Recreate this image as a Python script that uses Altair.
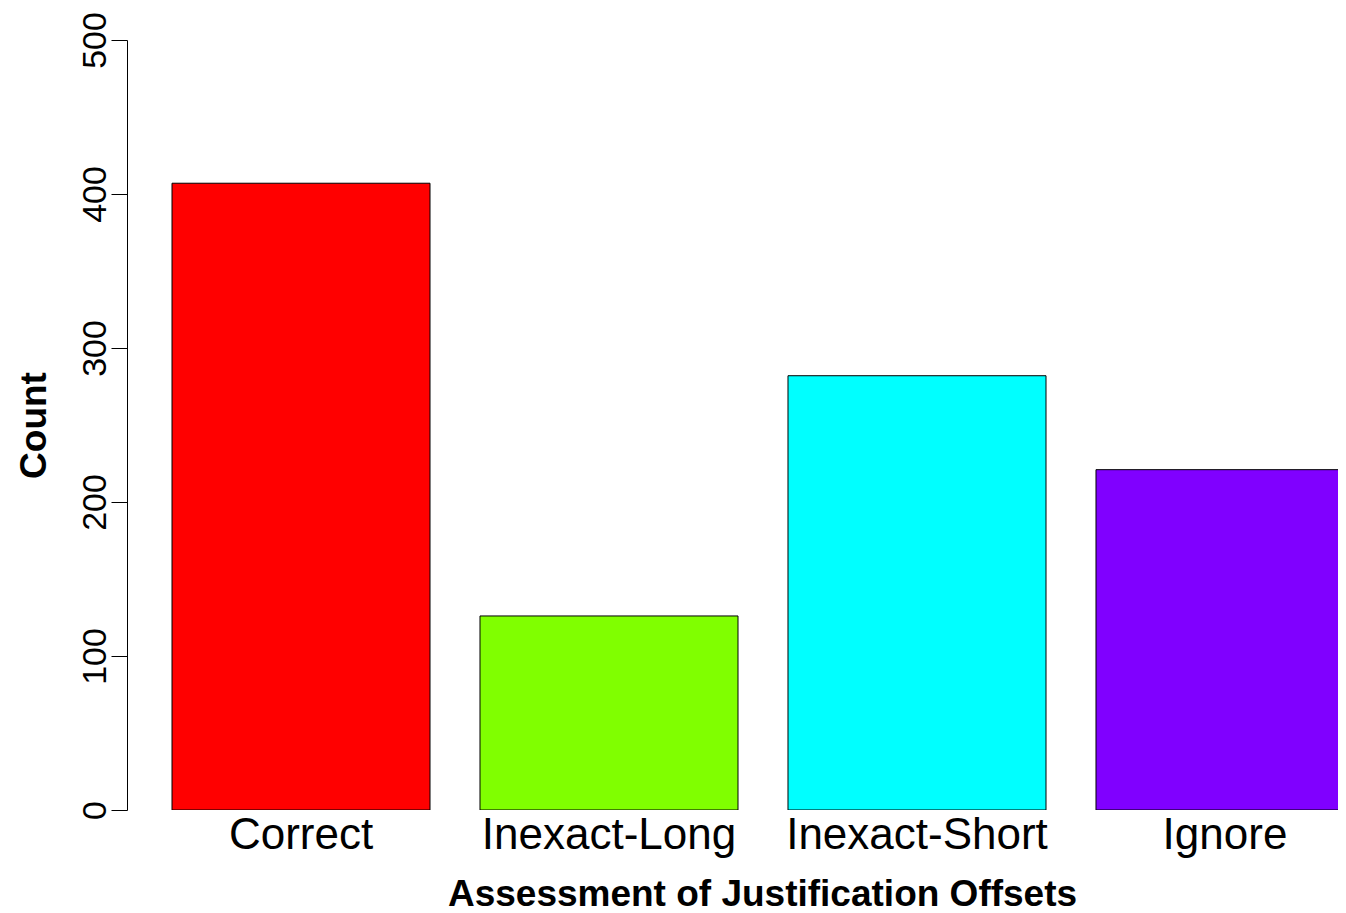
import altair as alt
import pandas as pd

categories = ["Correct", "Inexact-Long", "Inexact-Short", "Ignore"]
counts = [407, 126, 282, 221]
colors = ["#FF0000", "#80FF00", "#00FFFF", "#8000FF"]
y_ticks = [0, 100, 200, 300, 400, 500]

df = pd.DataFrame({"category": categories, "count": counts})

chart = alt.Chart(df).mark_bar(
    stroke="#000000", strokeWidth=1, clip=True
).encode(
    x=alt.X(
        "category:N",
        sort=categories,
        scale=alt.Scale(range=[45, 1227], paddingInner=0.1623, paddingOuter=0),
        axis=alt.Axis(
            title="Assessment of Justification Offsets",
            domain=False,
            ticks=False,
            labelAngle=0,
            labelLimit=0,
            labelFont="Liberation Sans",
            labelFontSize=44,
            labelColor="#000000",
            labelBaseline="alphabetic",
            labelPadding=38,
            titleFont="Liberation Sans",
            titleFontSize=37,
            titleFontWeight="bold",
            titleColor="#000000",
            titleBaseline="alphabetic",
            titleAlign="center",
            titleX=635,
            titleY=95,
            titleLimit=0,
        ),
    ),
    y=alt.Y(
        "count:Q",
        scale=alt.Scale(domain=[0, 500], nice=False, zero=True),
        axis=alt.Axis(
            title="Count",
            values=y_ticks,
            grid=False,
            domainColor="#000000",
            domainWidth=1,
            tickColor="#000000",
            tickSize=16,
            tickWidth=1,
            labelAngle=270,
            labelAlign="center",
            labelBaseline="alphabetic",
            labelPadding=6,
            labelFont="Liberation Sans",
            labelFontSize=34,
            labelColor="#000000",
            titleFont="Liberation Sans",
            titleFontSize=37,
            titleFontWeight="bold",
            titleColor="#000000",
            titleAngle=270,
            titleAlign="center",
            titleBaseline="alphabetic",
            titleX=-82,
            titleY=385,
        ),
    ),
    color=alt.Color(
        "category:N",
        sort=categories,
        scale=alt.Scale(domain=categories, range=colors),
        legend=None,
    ),
).properties(
    width=1211,
    height=770,
    autosize=alt.AutoSizeParams(type="none"),
    padding={"left": 119, "top": 32, "right": 0, "bottom": 103},
    background="#FFFFFF",
).configure_view(stroke=None)

chart.save("out.html", embed_options={"renderer": "svg", "actions": False})
